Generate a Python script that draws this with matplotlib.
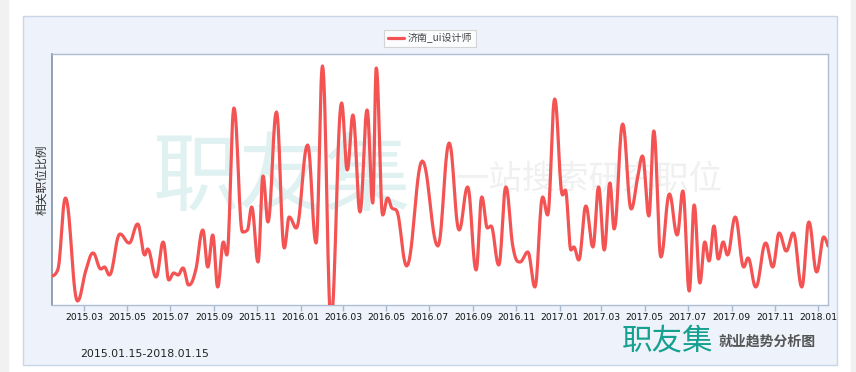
import matplotlib
matplotlib.use("Agg")
from matplotlib import pyplot as plt
import matplotlib.dates as mdates
from matplotlib.patches import Rectangle
import numpy as np
import pandas as pd

plt.rcParams['font.family'] = ['Noto Sans CJK SC', 'DejaVu Sans']

# data (dates, ratio)
dates = [
    "2015-01-15", "2015-01-23", "2015-02-03", "2015-02-20", "2015-03-04", "2015-03-14",
    "2015-03-25", "2015-03-30", "2015-04-06", "2015-04-21", "2015-05-04", "2015-05-16",
    "2015-05-26", "2015-05-30", "2015-06-11", "2015-06-21", "2015-06-29", "2015-07-06",
    "2015-07-12", "2015-07-19", "2015-07-27", "2015-08-06", "2015-08-16", "2015-08-23",
    "2015-08-30", "2015-09-06", "2015-09-14", "2015-09-19", "2015-09-29", "2015-10-11",
    "2015-10-18", "2015-10-24", "2015-11-02", "2015-11-09", "2015-11-16", "2015-11-28",
    "2015-12-09", "2015-12-16", "2015-12-26", "2016-01-11", "2016-01-23", "2016-02-01",
    "2016-02-13", "2016-02-28", "2016-03-07", "2016-03-15", "2016-03-25", "2016-04-04",
    "2016-04-12", "2016-04-17", "2016-04-26", "2016-05-03", "2016-05-09", "2016-05-15",
    "2016-05-30", "2016-06-21", "2016-07-13", "2016-07-29", "2016-08-12", "2016-08-24",
    "2016-09-05", "2016-09-13", "2016-09-21", "2016-09-26", "2016-10-07", "2016-10-17",
    "2016-10-27", "2016-11-06", "2016-11-17", "2016-11-27", "2016-12-08", "2016-12-15",
    "2016-12-25", "2017-01-05", "2017-01-09", "2017-01-17", "2017-01-21", "2017-01-28",
    "2017-02-07", "2017-02-17", "2017-02-25", "2017-03-05", "2017-03-13", "2017-03-19",
    "2017-03-31", "2017-04-12", "2017-04-21", "2017-04-28", "2017-05-07", "2017-05-14",
    "2017-05-24", "2017-06-05", "2017-06-16", "2017-06-24", "2017-07-03", "2017-07-10",
    "2017-07-18", "2017-07-25", "2017-07-31", "2017-08-07", "2017-08-13", "2017-08-20",
    "2017-08-26", "2017-09-06", "2017-09-18", "2017-09-24", "2017-10-05", "2017-10-19",
    "2017-10-29", "2017-11-07", "2017-11-17", "2017-11-27", "2017-12-09", "2017-12-19",
    "2017-12-30", "2018-01-09", "2018-01-15",
]
ratio = [
    0.29, 0.35, 1.07, 0.04, 0.35, 0.52,
    0.36, 0.38, 0.30, 0.71, 0.62, 0.81,
    0.50, 0.56, 0.28, 0.63, 0.25, 0.32,
    0.30, 0.37, 0.20, 0.35, 0.75, 0.38,
    0.70, 0.18, 0.63, 0.50, 1.97, 0.73,
    0.75, 0.98, 0.43, 1.29, 0.83, 1.93,
    0.57, 0.88, 0.77, 1.60, 0.62, 2.39,
    -0.15, 2.02, 1.35, 1.90, 0.93, 1.95,
    1.02, 2.37, 0.90, 1.07, 0.97, 0.95,
    0.39, 1.44, 0.59, 1.62, 0.75, 1.18,
    0.35, 1.08, 0.77, 0.79, 0.40, 1.18,
    0.58, 0.43, 0.53, 0.18, 1.08, 0.90,
    2.06, 1.10, 1.15, 0.55, 0.58, 0.45,
    0.99, 0.58, 1.18, 0.55, 1.22, 0.76,
    1.81, 0.96, 1.27, 1.49, 0.89, 1.74,
    0.48, 1.11, 0.70, 1.14, 0.14, 1.00,
    0.22, 0.63, 0.44, 0.79, 0.46, 0.63,
    0.50, 0.88, 0.38, 0.47, 0.18, 0.62,
    0.38, 0.72, 0.54, 0.72, 0.18, 0.83,
    0.33, 0.68, 0.59,
]
series_name = "济南_ui设计师"
date_range = "2015.01.15-2018.01.15"


# spline like the web chart draws it
def spline(xs, ys, steps=16):
    n = len(xs)
    conts = []
    for i in range(n):
        x, y = xs[i], ys[i]
        if 0 < i < n - 1:
            lx, ly, nx, ny = xs[i-1], ys[i-1], xs[i+1], ys[i+1]
            lcx = (1.5*x + lx)/2.5
            lcy = (1.5*y + ly)/2.5
            rcx = (1.5*x + nx)/2.5
            rcy = (1.5*y + ny)/2.5
            if rcx != lcx:
                corr = (rcy - lcy)*(rcx - x)/(rcx - lcx) + y - rcy
                lcy += corr
                rcy += corr
            if lcy > ly and lcy > y:
                lcy = max(ly, y); rcy = 2*y - lcy
            elif lcy < ly and lcy < y:
                lcy = min(ly, y); rcy = 2*y - lcy
            if rcy > ny and rcy > y:
                rcy = max(ny, y); lcy = 2*y - rcy
            elif rcy < ny and rcy < y:
                rcy = min(ny, y); lcy = 2*y - rcy
            conts.append(((lcx, lcy), (rcx, rcy)))
        else:
            conts.append(((x, y), (x, y)))
    t = np.linspace(0, 1, steps)[:, None]
    out = [np.array([[xs[0], ys[0]]])]
    for i in range(1, n):
        p0 = np.array([xs[i-1], ys[i-1]])
        p1 = np.array(conts[i-1][1])
        p2 = np.array(conts[i][0])
        p3 = np.array([xs[i], ys[i]])
        seg = ((1-t)**3)*p0 + 3*((1-t)**2)*t*p1 + 3*(1-t)*t**2*p2 + t**3*p3
        out.append(seg[1:])
    pts = np.vstack(out)
    return pts[:, 0], pts[:, 1]


xd = mdates.date2num(pd.to_datetime(dates))
sx, sy = spline(list(xd), ratio)

fig = plt.figure(figsize=(8.56, 3.72), dpi=100)
fig.patch.set_facecolor('white')

# page strips and panel
fig.patches.append(Rectangle((0, 0), 8/856, 1, transform=fig.transFigure, color='#f1f1f1', zorder=0))
fig.patches.append(Rectangle((851/856, 0), 5/856, 1, transform=fig.transFigure, color='#f1f1f1', zorder=0))
fig.patches.append(Rectangle((23/856, 7/372), 814/856, 349/372, transform=fig.transFigure,
                             facecolor='#eef3fb', edgecolor='#c9d6e8', linewidth=1, zorder=0))

ax = fig.add_axes([52/856, 67/372, 776/856, 251/372])
ax.set_zorder(2)
ax.set_facecolor('white')

# watermark
ax.text(0.13, 0.50, "职友集", transform=ax.transAxes, fontsize=62, color='#e0f1f1',
        ha='left', va='center', zorder=0)
ax.text(0.52, 0.50, "一站搜索研究职位", transform=ax.transAxes, fontsize=24, color='#f0f0f0',
        ha='left', va='center', zorder=0)

ax.plot(sx, sy, color='#f45353', linewidth=2.3, label=series_name, zorder=3,
        solid_capstyle='round')

ax.set_xlim(mdates.date2num(pd.Timestamp(dates[0])), mdates.date2num(pd.Timestamp(dates[-1])))
ax.set_ylim(0, 2.51)
ax.xaxis.set_major_locator(mdates.MonthLocator(bymonth=[1, 3, 5, 7, 9, 11]))
ax.xaxis.set_major_formatter(mdates.DateFormatter('%Y.%m'))
ax.set_yticks([])
ax.tick_params(axis='x', length=4, width=1, color='#a9b8cf', pad=2, labelsize=6.7,
               labelcolor='#111111')
for lab in ax.get_xticklabels():
    lab.set_family('DejaVu Sans')

for side in ['top', 'right', 'bottom']:
    ax.spines[side].set_color('#aebdd4')
    ax.spines[side].set_linewidth(1)
ax.spines['left'].set_color('#8090a8')
ax.spines['left'].set_linewidth(1.2)

ax.set_ylabel("相关职位比例", fontsize=8.5, color='#333333', labelpad=3)

leg = fig.legend(loc='center', bbox_to_anchor=(430/856, 1 - 38.5/372), fontsize=7.2,
                 frameon=True, fancybox=False, handlelength=1.6, handletextpad=0.4,
                 borderpad=0.35, borderaxespad=0)
leg.get_frame().set_edgecolor('#cccccc')
leg.get_frame().set_linewidth(0.8)
for t in leg.get_texts():
    t.set_color('#444444')

fig.text(80/856, 1 - 354/372, date_range, fontsize=7.9, color='#222222', ha='left',
         va='center', family='DejaVu Sans')
fig.text(622/856, 1 - 341/372, "职友集", fontsize=22, color='#16a08f', ha='left',
         va='center')
fig.text(719/856, 1 - 342/372, "就业趋势分析图", fontsize=10, color='#555555', ha='left',
         va='center', fontweight='bold')

plt.savefig("out.png", dpi=100)
